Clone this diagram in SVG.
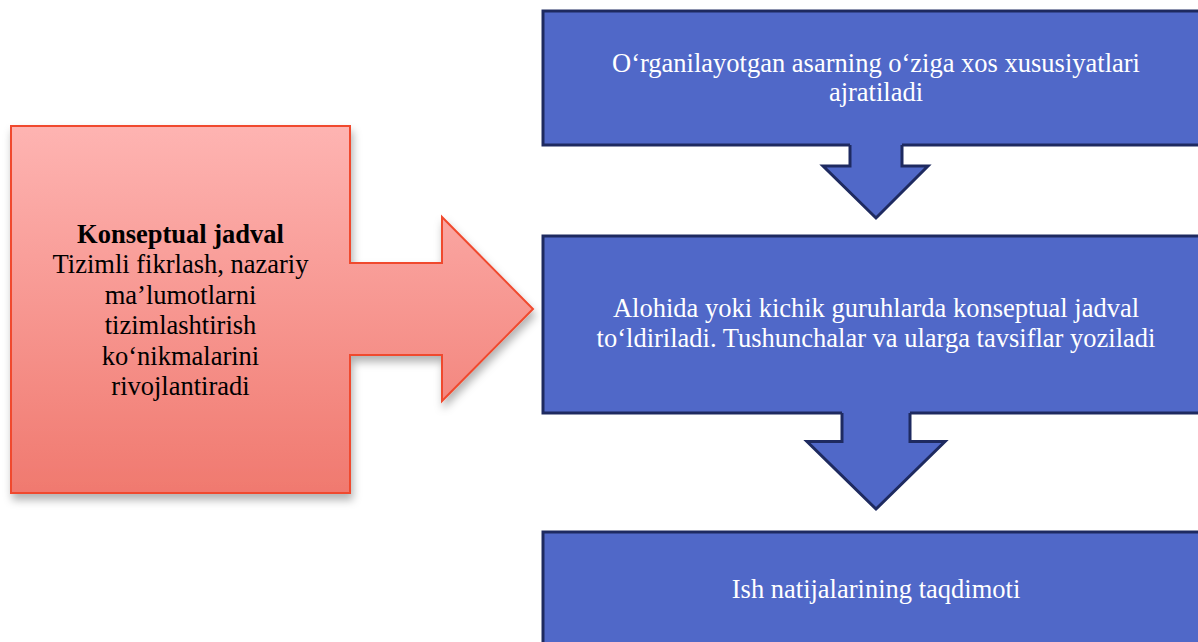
<svg xmlns="http://www.w3.org/2000/svg" width="1198" height="642" viewBox="0 0 1198 642">
<defs>
<linearGradient id="redGrad" x1="0" y1="0" x2="0" y2="1">
<stop offset="0" stop-color="#feb4b2"/>
<stop offset="1" stop-color="#f0796f"/>
</linearGradient>
<filter id="shadow" x="-10%" y="-10%" width="130%" height="130%">
<feDropShadow dx="2" dy="6" stdDeviation="4" flood-color="#000" flood-opacity="0.3"/>
</filter>
</defs>
<style>
.box{fill:#5068c8;stroke:#1e2a60;stroke-width:3}
.afill{fill:#5068c8;stroke:none}
.aline{fill:none;stroke:#1e2a60;stroke-width:3;stroke-linejoin:miter}
.wt{font-family:"Liberation Serif","Times New Roman",serif;font-size:26.5px;fill:#ffffff;text-anchor:middle}
.bt{font-family:"Liberation Serif","Times New Roman",serif;font-size:26.5px;fill:#000000;text-anchor:middle}
.b{font-weight:bold}
</style>
<rect x="0" y="0" width="1198" height="642" fill="#ffffff"/>
<g id="node-konseptual">
<path d="M11 126 H350 V263 H442 V217 L533 309 L442 401 V355 H350 V493 H11 Z" fill="url(#redGrad)" stroke="#f04a2f" stroke-width="2" filter="url(#shadow)"/>
<text class="bt b" x="180.5" y="242.5">Konseptual jadval</text>
<text class="bt" x="180.5" y="273">Tizimli fikrlash, nazariy</text>
<text class="bt" x="180.5" y="303.5">ma’lumotlarni</text>
<text class="bt" x="180.5" y="334">tizimlashtirish</text>
<text class="bt" x="180.5" y="364.5">ko‘nikmalarini</text>
<text class="bt" x="180.5" y="395">rivojlantiradi</text>
</g>
<g id="node-step1">
<rect class="box" x="543" y="11" width="666" height="134"/>
<text class="wt" x="876" y="71.5">O‘rganilayotgan asarning o‘ziga xos xususiyatlari</text>
<text class="wt" x="876" y="101">ajratiladi</text>
</g>
<g id="node-step2">
<rect class="box" x="543" y="236" width="666" height="177"/>
<text class="wt" x="876" y="317">Alohida yoki kichik guruhlarda konseptual jadval</text>
<text class="wt" x="876" y="347">to‘ldiriladi. Tushunchalar va ularga tavsiflar yoziladi</text>
</g>
<g id="node-step3">
<rect class="box" x="543" y="532" width="666" height="200"/>
<text class="wt" x="876" y="598">Ish natijalarining taqdimoti</text>
</g>
<g id="connectors">
<polygon class="afill" points="850,143 902,143 902,166 928,166 876,218 823,166 850,166"/>
<polyline class="aline" points="850,145 850,166 823,166 876,218 928,166 902,166 902,145"/>
<polygon class="afill" points="842,411 910,411 910,441.5 945,441.5 876,509 807,441.5 842,441.5"/>
<polyline class="aline" points="842,413 842,441.5 807,441.5 876,509 945,441.5 910,441.5 910,413"/>
</g>
</svg>
